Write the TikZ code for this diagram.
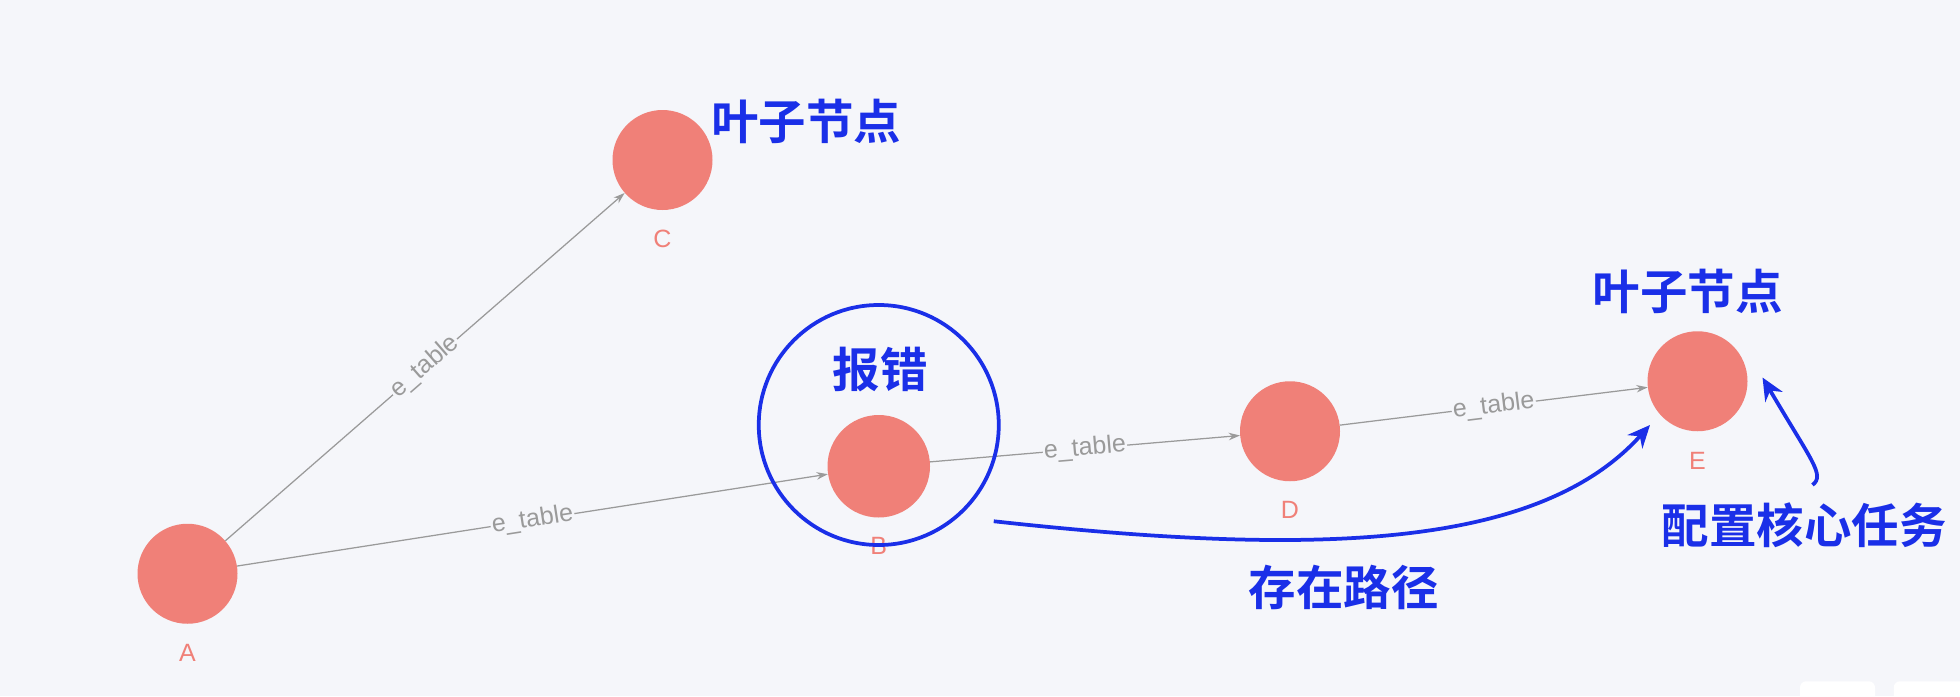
\documentclass[tikz,border=0pt]{standalone}
\usepackage{fontspec}
\setmainfont{Liberation Sans}
\newfontfamily\cjk{Noto Sans CJK SC}[BoldFont=* Bold]
\usetikzlibrary{arrows.meta}
\definecolor{bg}{HTML}{F5F6FA}
\definecolor{nd}{HTML}{F08078}
\definecolor{ed}{HTML}{9A9A9A}
\definecolor{bl}{HTML}{1A2FE8}
\tikzset{
 vert/.style={circle,fill=nd,minimum size=80pt,inner sep=0pt},
 vlab/.style={text=nd,font=\fontsize{20}{20}\selectfont},
 edge/.style={draw=ed,line width=1pt,-{Stealth[length=9pt,width=6pt]}},
 elab/.style={text=ed,fill=bg,inner sep=1pt,sloped,font=\fontsize{20}{20}\selectfont},
 note/.style={text=bl,font=\cjk\bfseries\fontsize{38}{38}\selectfont},
 blarrow/.style={draw=bl,line width=3pt,-{Stealth[length=18pt,width=16pt]}}
}
\begin{document}
\begin{tikzpicture}[x=1pt,y=-1pt]
\fill[bg] (0,0) rectangle (1568,557);
\useasboundingbox (0,0) rectangle (1568,557);
\fill[white,rounded corners=5pt] (1440,545) rectangle (1500,570);
\fill[white,rounded corners=5pt] (1515,545) rectangle (1580,570);
\node[vert] (A) at (150,459) {};
\node[vert] (C) at (530,128) {};
\node[vert,minimum size=82pt] (B) at (703,373) {};
\node[vert] (D) at (1032,345) {};
\node[vert] (E) at (1358,305) {};
\node[vlab] (la) at (150,522) {A};
\node[vlab] (lc) at (530,191) {C};
\node[vlab] (lb) at (703,437) {B};
\node[vlab] (ld) at (1032,408) {D};
\node[vlab] (le) at (1358,369) {E};
\draw[edge] (A) -- node[elab,pos=0.5] {e\_table} (C);
\draw[edge] (A) -- node[elab,pos=0.5] {e\_table} (B);
\draw[edge] (B) -- node[elab,pos=0.5] {e\_table} (D);
\draw[edge] (D) -- node[elab,pos=0.5] {e\_table} (E);
\node[circle,draw=bl,line width=3pt,minimum size=192pt,inner sep=0pt] (ring) at (703,340) {};
\node[note] (t1) at (704,296) {报错};
\node[note] (t2) at (645,97) {叶子节点};
\node[note] (t3) at (1350,233) {叶子节点};
\node[note] (t4) at (1075,470) {存在路径};
\node[note,anchor=west] (t5) at (1326,420) {配置核心任务};
\coordinate (p1) at (795,417);
\coordinate (p2) at (1320,340);
\coordinate (q1) at (1450,388);
\coordinate (q2) at (1410,302);
\draw[blarrow] (p1) .. controls (1050,445) and (1230,440) .. (p2);
\draw[blarrow] (q1) .. controls (1460,380) and (1450,370) .. (q2);
\end{tikzpicture}
\end{document}
